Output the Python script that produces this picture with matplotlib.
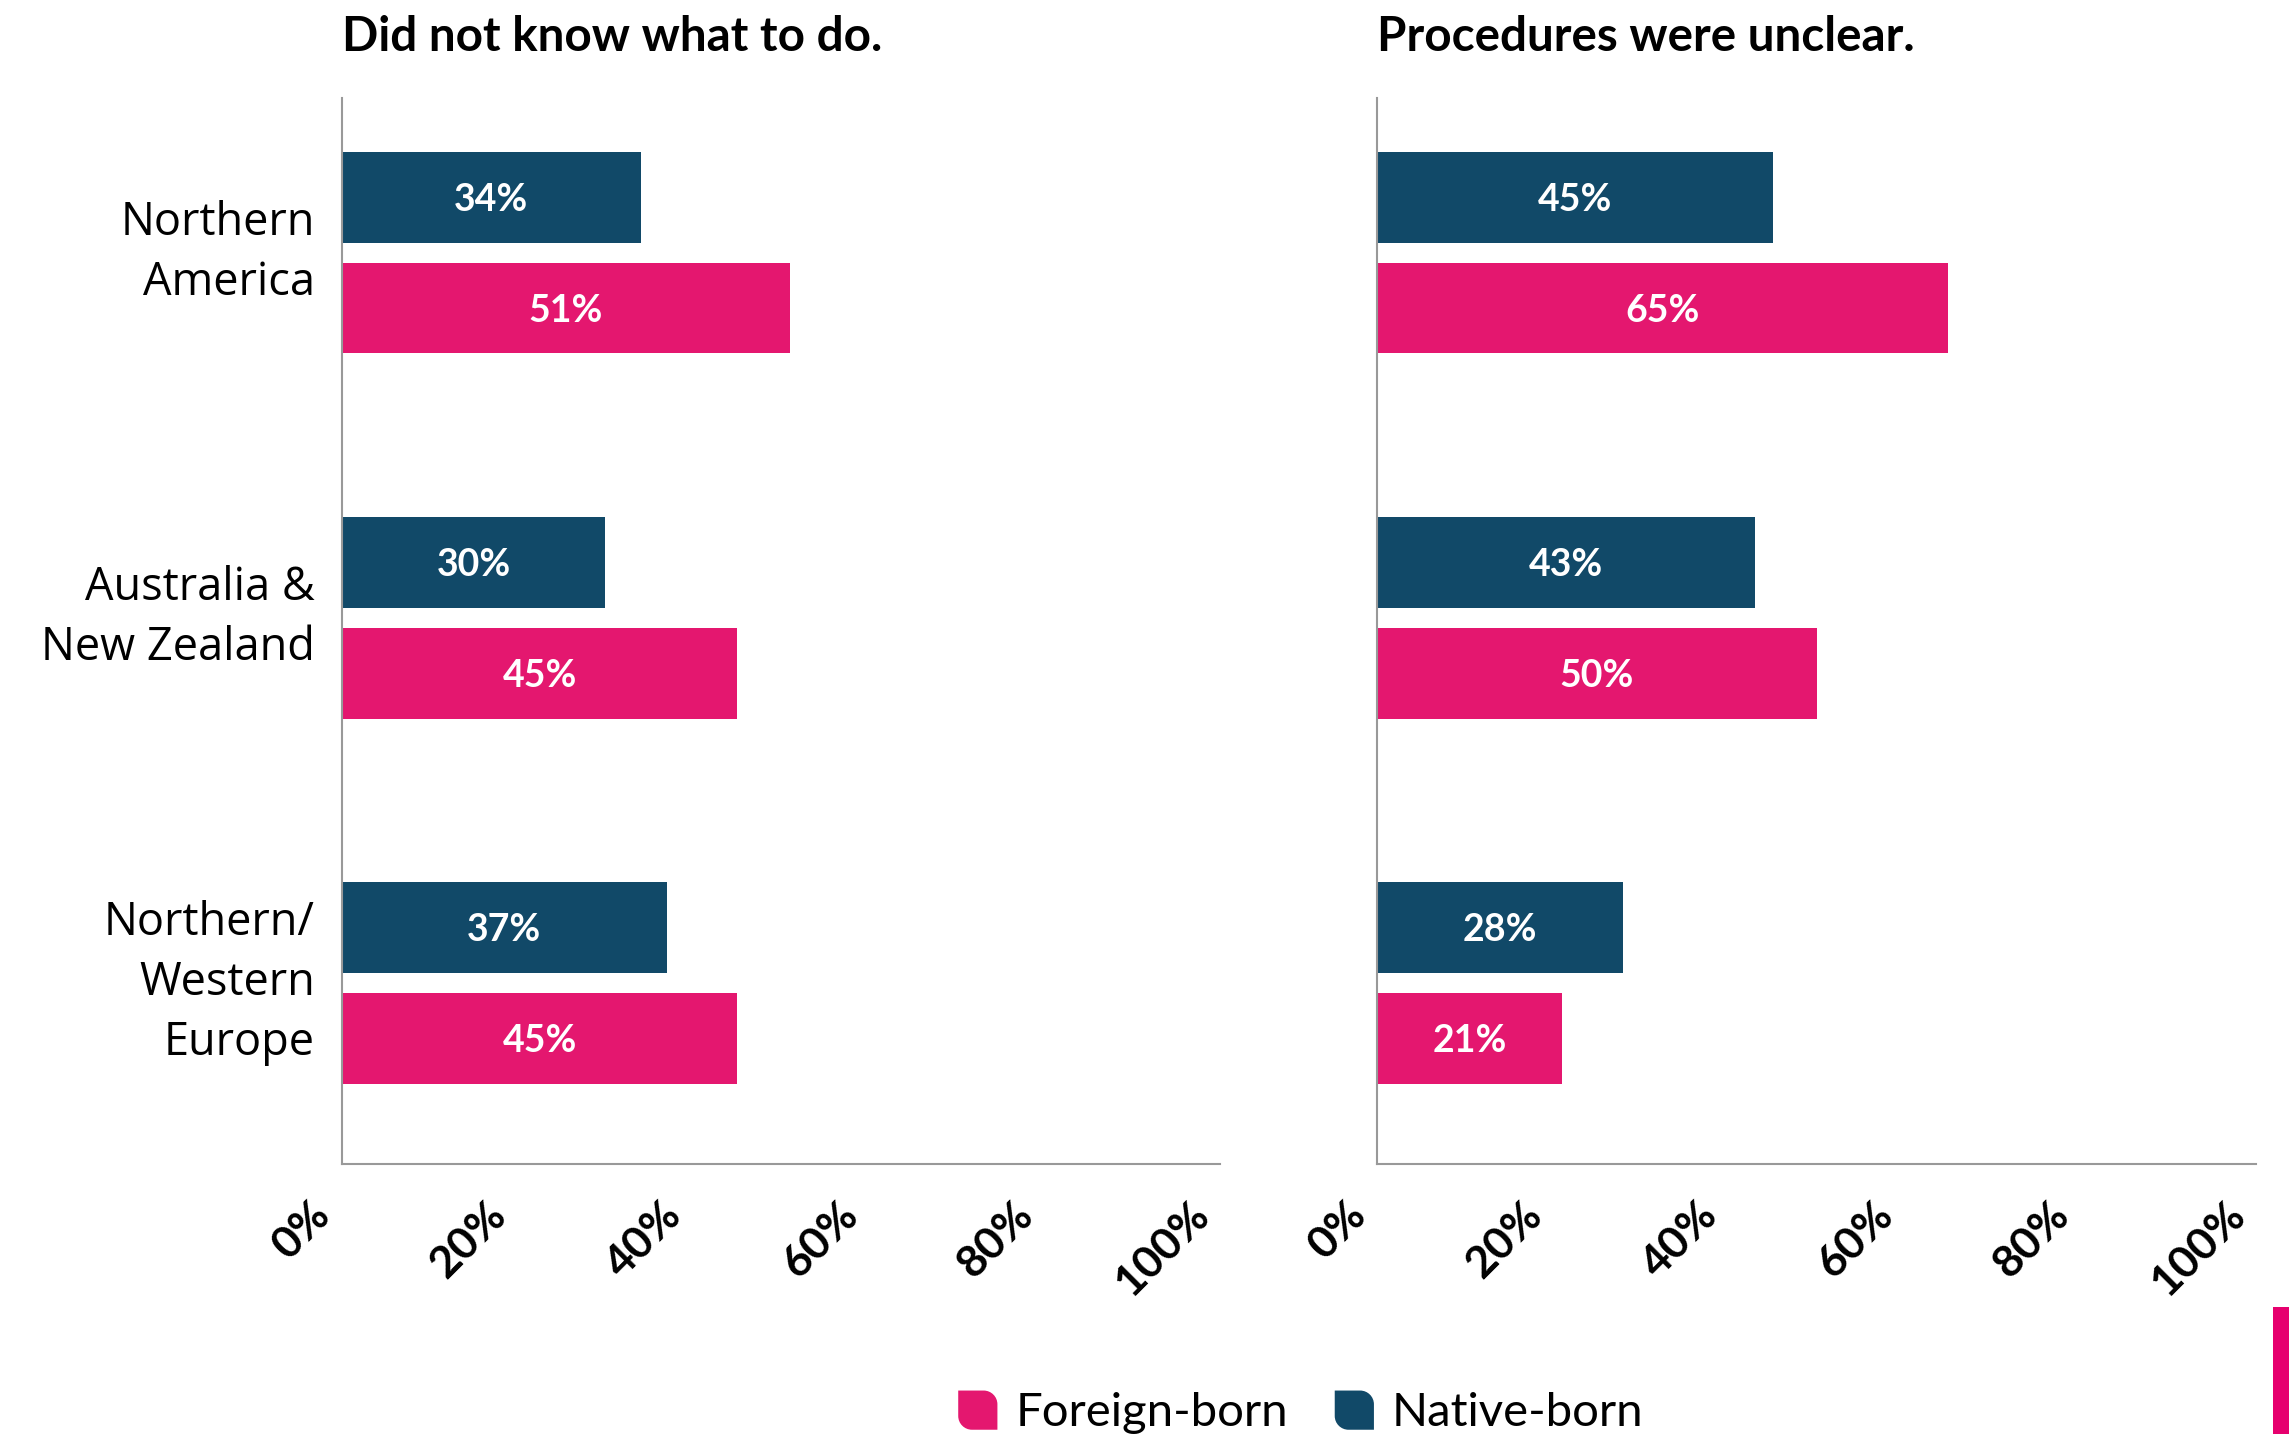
import matplotlib.pyplot as plt
from matplotlib.patches import Patch, Rectangle, PathPatch
from matplotlib.path import Path
from matplotlib.legend_handler import HandlerPatch
import matplotlib.transforms as mtransforms
import numpy as np

# Data
categories = ["Northern\nAmerica", "Australia &\nNew Zealand", "Northern/\nWestern\nEurope"]
titles = ["Did not know what to do.", "Procedures were unclear."]
native_vals = [[34, 30, 37], [45, 43, 28]]
foreign_vals = [[51, 45, 45], [65, 50, 21]]
ticks = [0, 20, 40, 60, 80, 100]
tick_labels = ["0%", "20%", "40%", "60%", "80%", "100%"]

PINK = "#E4176F"
NAVY = "#114968"


# leaf-shaped legend marker (rounded top-right and bottom-left corners)
def leaf_patch(legend, orig_handle, xdescent, ydescent, width, height, fontsize):
    s = min(width, height)
    x0, y0 = -xdescent + (width - s) / 2, -ydescent + (height - s) / 2
    r = s * 0.35
    k = 0.55 * r
    verts = [
        (x0, y0 + r),
        (x0, y0 + r - k), (x0 + r - k, y0), (x0 + r, y0),
        (x0 + s, y0),
        (x0 + s, y0 + s - r),
        (x0 + s, y0 + s - r + k), (x0 + s - r + k, y0 + s), (x0 + s - r, y0 + s),
        (x0, y0 + s),
        (x0, y0 + r),
    ]
    codes = [Path.MOVETO, Path.CURVE4, Path.CURVE4, Path.CURVE4, Path.LINETO, Path.LINETO,
             Path.CURVE4, Path.CURVE4, Path.CURVE4, Path.LINETO, Path.CLOSEPOLY]
    return PathPatch(Path(verts, codes))


fig = plt.figure(figsize=(22.89, 14.34), dpi=100)
fig.patch.set_facecolor("white")

positions = [[0.1494, 0.1883, 0.3836, 0.7434], [0.6016, 0.1883, 0.384, 0.7434]]
y = np.arange(len(categories))
off = 0.152
h = 0.248

xlab_shift = mtransforms.ScaledTranslation(-0.32, -0.30, fig.dpi_scale_trans)
ylab_shift = mtransforms.ScaledTranslation(-0.27, 0.0, fig.dpi_scale_trans)

for k in range(2):
    ax = fig.add_axes(positions[k])
    b1 = ax.barh(y - off, native_vals[k], height=h, color=NAVY)
    b2 = ax.barh(y + off, foreign_vals[k], height=h, color=PINK)
    for bars, vals in ((b1, native_vals[k]), (b2, foreign_vals[k])):
        for bar, v in zip(bars, vals):
            ax.text(v / 2, bar.get_y() + bar.get_height() / 2, f"{v}%",
                    ha="center", va="center_baseline", color="white",
                    fontsize=27, fontweight="bold", family="Lato")
    ax.set_xlim(0, 100)
    ax.set_ylim(2.496, -0.424)
    ax.set_xticks(ticks)
    ax.set_xticklabels([])
    ax.set_yticks(y)
    ax.set_yticklabels([])
    ax.tick_params(length=0)

    # rotated x tick labels
    for t, lab in zip(ticks, tick_labels):
        ax.text(t, 0, lab, transform=ax.get_xaxis_transform() + xlab_shift,
                rotation=45, ha="right", va="top", rotation_mode="anchor",
                fontsize=32, fontweight="bold", family="Lato")

    if k == 0:
        for yi, cat in zip(y, categories):
            ax.text(0, yi, cat, transform=ax.get_yaxis_transform() + ylab_shift,
                    ha="right", va="center", multialignment="right",
                    fontsize=32.5, family="Open Sans", linespacing=1.4)

    for s in ("top", "right"):
        ax.spines[s].set_visible(False)
    for s in ("left", "bottom"):
        ax.spines[s].set_color("#999999")
        ax.spines[s].set_linewidth(1.5)
    fig.text(positions[k][0], 0.974, titles[k], ha="left", va="center",
             fontsize=34.3, fontweight="bold", family="Lato")

handles = [Patch(facecolor=PINK, label="Foreign-born"),
           Patch(facecolor=NAVY, label="Native-born")]
fig.legend(handles=handles, loc="center", bbox_to_anchor=(0.568, 0.015), ncol=2,
           frameon=False, prop={"family": "Lato", "size": 34},
           handlelength=0.9, handleheight=0.9, handletextpad=0.35, columnspacing=0.95,
           handler_map={Patch: HandlerPatch(patch_func=leaf_patch)})

# decorative pink strip at bottom right
fig.add_artist(Rectangle((0.993, 0), 0.007, 0.0886, transform=fig.transFigure,
                         facecolor="#E6006E", edgecolor="none"))

fig.savefig("out.png", dpi=100)
